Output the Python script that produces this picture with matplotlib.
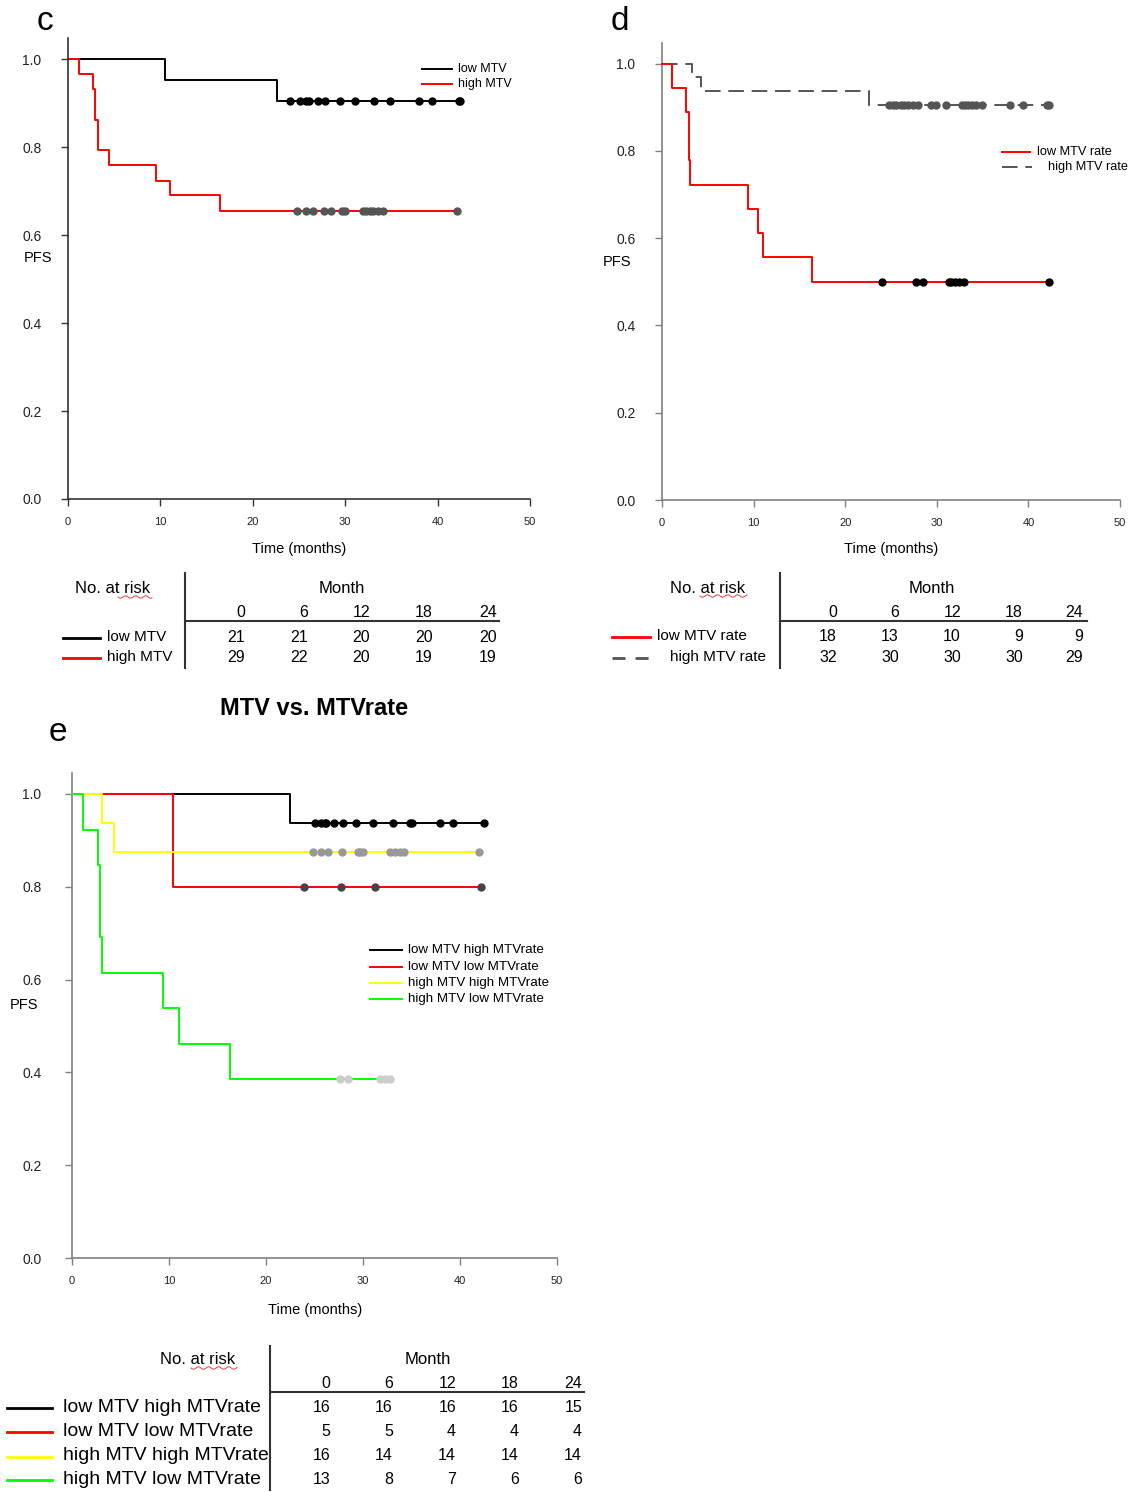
import matplotlib
matplotlib.use("Agg")
import matplotlib.pyplot as plt
from matplotlib.lines import Line2D
import numpy as np

plt.rcParams['font.family'] = ['Liberation Sans', 'DejaVu Sans']

W, H = 1132, 1492

# ---- panel c: MTV ----
c_low_t = [0, 10.5, 22.6, 42.4]
c_low_s = [1.0, 0.952, 0.905, 0.905]
c_low_cens = [24.0, 25.1, 25.8, 26.1, 27.1, 27.8, 29.4, 31.1, 33.1, 34.9, 38.0, 39.4, 42.3, 42.4]
c_high_t = [0, 1.2, 2.7, 2.9, 3.2, 4.4, 9.5, 11.0, 16.45, 42.1]
c_high_s = [1.0, 0.966, 0.931, 0.862, 0.793, 0.759, 0.724, 0.690, 0.655, 0.655]
c_high_cens = [24.8, 25.8, 26.5, 27.7, 28.5, 29.6, 30.0, 31.9, 32.2, 32.7, 33.0, 33.6, 34.1, 42.1]
c_labels = ["low MTV", "high MTV"]
c_risk = [[21, 21, 20, 20, 20], [29, 22, 20, 19, 19]]

# ---- panel d: MTV rate ----
d_low_t = [0, 1.1, 2.6, 2.9, 3.1, 9.35, 10.45, 11.05, 16.4, 42.3]
d_low_s = [1.0, 0.944, 0.889, 0.778, 0.722, 0.667, 0.611, 0.556, 0.5, 0.5]
d_low_cens = [24.0, 27.7, 28.5, 31.3, 31.6, 32.0, 32.4, 33.0, 42.3]
d_high_t = [0, 3.3, 4.3, 22.6, 42.2]
d_high_s = [1.0, 0.969, 0.9375, 0.906, 0.906]
d_high_cens = [24.8, 25.2, 25.6, 26.1, 26.4, 26.9, 27.4, 27.9, 29.4, 29.9, 31.0, 32.7,
               33.1, 33.4, 33.8, 34.3, 34.9, 38.0, 39.4, 42.0, 42.2]
d_labels = ["low MTV rate", "high MTV rate"]
d_risk = [[18, 13, 10, 9, 9], [32, 30, 30, 30, 29]]

# ---- panel e: MTV vs MTVrate ----
e_labels = ["low MTV high MTVrate", "low MTV low MTVrate",
            "high MTV high MTVrate", "high MTV low MTVrate"]
e_t = [[0, 22.5, 42.5],
       [0, 10.4, 42.2],
       [0, 3.1, 4.3, 42.0],
       [0, 1.1, 2.65, 2.9, 3.1, 9.35, 11.0, 16.3, 33.1]]
e_s = [[1.0, 0.9375, 0.9375],
       [1.0, 0.8, 0.8],
       [1.0, 0.9375, 0.875, 0.875],
       [1.0, 0.923, 0.846, 0.692, 0.615, 0.538, 0.4615, 0.385, 0.385]]
e_cens = [[25.1, 25.7, 26.1, 26.2, 27.0, 27.9, 29.3, 31.0, 33.1, 34.8, 35.0, 37.9, 39.3, 42.5],
          [23.9, 27.7, 31.2, 42.2],
          [24.8, 25.7, 26.4, 27.8, 29.5, 29.7, 30.0, 32.8, 33.3, 33.8, 34.2, 42.0],
          [27.6, 28.5, 31.8, 32.3, 32.8]]
e_risk = [[16, 16, 16, 16, 15], [5, 5, 4, 4, 4], [16, 14, 14, 14, 14], [13, 8, 7, 6, 6]]

months = [0, 6, 12, 18, 24]

fig = plt.figure(figsize=(W / 100, H / 100), dpi=100)


def fx(x):
    return x / W


def fy(y):
    return 1 - y / H


def ftext(x, y, s, **kw):
    fig.text(fx(x), fy(y), s, **kw)


def fline(xs, ys, **kw):
    fig.add_artist(Line2D([fx(v) for v in xs], [fy(v) for v in ys], **kw))


def squiggle(x0, x1, y):
    # red spell-check underline
    xs = np.linspace(x0, x1, 60)
    ys = y + 1.2 * np.sin((xs - x0) / 1.6)
    fline(xs, ys, color='#e04040', lw=0.7)


def make_axes(left, right, top, bottom, ymax, spine_col, ypad):
    ax = fig.add_axes([fx(left), fy(bottom), (right - left) / W, (bottom - top) / H])
    ax.set_xlim(0, 50)
    ax.set_ylim(0, ymax)
    for s in ['top', 'right']:
        ax.spines[s].set_visible(False)
    for s in ['left', 'bottom']:
        ax.spines[s].set_color(spine_col)
        ax.spines[s].set_linewidth(1.2)
    ax.set_xticks([0, 10, 20, 30, 40, 50])
    ax.set_yticks([0, 0.2, 0.4, 0.6, 0.8, 1.0])
    ax.set_yticklabels(['0.0', '0.2', '0.4', '0.6', '0.8', '1.0'])
    ax.tick_params(axis='x', length=5, width=1, color=spine_col, labelsize=8, pad=8,
                   labelcolor='#222222')
    ax.tick_params(axis='y', length=5, width=1, color=spine_col, labelsize=10, pad=ypad,
                   labelcolor='#222222')
    return ax


def km(ax, t, s, cens, color, mcol, ls='-', z=2):
    ax.step(t, s, where='post', color=color, lw=1.4, ls=ls, zorder=z, clip_on=False)
    # censor marks sit on the final plateau
    ax.plot(cens, [s[-1]] * len(cens), 'o', color=mcol, ms=5, zorder=z + 0.5, clip_on=False)


def risk_table(vx, vtop, vbot, hy, hx1, no_x, month_x, head_y, col_x, row_y,
               labels, styles, text_x, risk, lab_size, line_x):
    ftext(no_x, head_y, "No. at risk", ha='center', va='center', fontsize=12)
    ftext(month_x, head_y, "Month", ha='center', va='center', fontsize=12)
    fline([vx, vx], [vtop, vbot], color='#333333', lw=1.5)
    fline([vx, hx1], [hy, hy], color='#333333', lw=1.5)
    for cx, m in zip(col_x, months):
        ftext(cx, hy - 9, str(m), ha='right', va='center', fontsize=11.5)
    for i, row in enumerate(risk):
        for cx, v in zip(col_x, row):
            ftext(cx, row_y[i], str(v), ha='right', va='center', fontsize=11.5)
        col, ls = styles[i]
        fline(line_x[i], [row_y[i] + 1, row_y[i] + 1], color=col, lw=2, ls=ls)
        ftext(text_x[i], row_y[i], labels[i], ha='left', va='center', fontsize=lab_size)


# ---------------- panel c ----------------
ax_c = make_axes(68, 530, 38, 499, 1.048, '#333333', 14)
km(ax_c, c_low_t, c_low_s, c_low_cens, 'black', 'black')
km(ax_c, c_high_t, c_high_s, c_high_cens, 'red', '#555555')
ftext(45, 21, "c", ha='center', va='center', fontsize=24)
ftext(24, 258, "PFS", ha='left', va='center', fontsize=10.5)
ftext(299, 549, "Time (months)", ha='center', va='center', fontsize=10.5)
fline([422, 452], [69, 69], color='black', lw=1.4)
fline([422, 452], [84, 84], color='red', lw=1.4)
ftext(458, 69, c_labels[0], ha='left', va='center', fontsize=9)
ftext(458, 84, c_labels[1], ha='left', va='center', fontsize=9)

risk_table(185, 573, 668, 621, 499, 113, 342, 588, [245, 308, 370, 433, 497], [637, 657],
           c_labels, [('black', '-'), ('red', '-')], [107, 107], c_risk, 11, [[63, 100], [63, 100]])
squiggle(118, 152, 597)

# ---------------- panel d ----------------
ax_d = make_axes(662, 1120, 43, 500, 1.047, '#808080', 14)
km(ax_d, d_high_t, d_high_s, d_high_cens, '#555555', '#555555', ls=(0, (8, 4)))
km(ax_d, d_low_t, d_low_s, d_low_cens, 'red', 'black', z=3)
ftext(620, 21, "d", ha='center', va='center', fontsize=24)
ftext(603, 262, "PFS", ha='left', va='center', fontsize=10.5)
ftext(891, 549, "Time (months)", ha='center', va='center', fontsize=10.5)
fline([1002, 1030], [152, 152], color='red', lw=1.4)
fline([1002, 1032], [167, 167], color='#555555', lw=1.4, ls=(0, (8, 4)))
ftext(1037, 152, d_labels[0], ha='left', va='center', fontsize=9.2)
ftext(1048, 167, d_labels[1], ha='left', va='center', fontsize=9.2)

risk_table(780, 573, 668, 621, 1087, 708, 932, 588, [837, 899, 961, 1023, 1083], [636, 657],
           d_labels, [('red', '-'), ('#555555', (0, (4.7, 3.6)))], [657, 670], d_risk, 11,
           [[612, 650], [612, 651]])
squiggle(700, 747, 596)

# ---------------- panel e ----------------
ax_e = make_axes(72, 557, 773, 1258, 1.045, '#808080', 17)
e_colors = ['black', 'red', '#ffff00', '#00ff00']
e_mcols = ['black', '#444444', '#999999', '#cccccc']
for i in range(4):
    km(ax_e, e_t[i], e_s[i], e_cens[i], e_colors[i], e_mcols[i], z=2 + i)
ftext(58, 733, "e", ha='center', va='center', fontsize=24)
ftext(314, 709, "MTV vs. MTVrate", ha='center', va='center', fontsize=17, fontweight='bold')
ftext(10, 1005, "PFS", ha='left', va='center', fontsize=10.5)
ftext(315, 1310, "Time (months)", ha='center', va='center', fontsize=10.5)
for i, yy in enumerate([950, 967, 983, 999]):
    fline([370, 402], [yy, yy], color=e_colors[i], lw=1.4)
    ftext(408, yy, e_labels[i], ha='left', va='center', fontsize=9.6)

risk_table(270, 1346, 1490, 1392, 584, 198, 428, 1360, [330, 393, 456, 519, 582],
           [1407, 1431, 1456, 1479], e_labels,
           [(c, '-') for c in e_colors], [63] * 4, e_risk, 14, [[7, 52]] * 4)
squiggle(191, 237, 1368)

fig.savefig("out.png", dpi=100)
